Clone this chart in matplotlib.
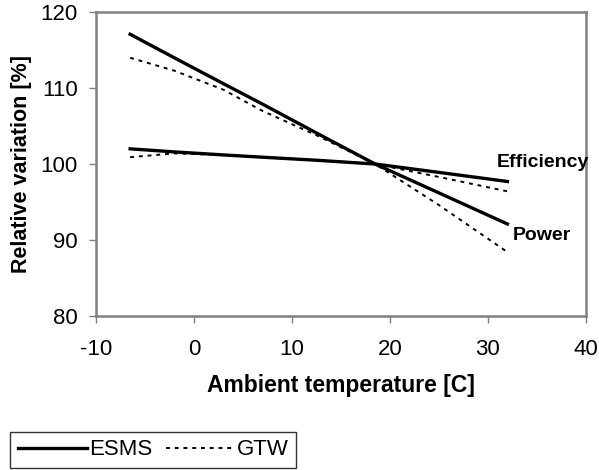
import matplotlib.pyplot as plt

plt.rcParams['font.family'] = ['Liberation Sans', 'DejaVu Sans']
plt.rcParams['axes.unicode_minus'] = False

temp = [-6.5, -2, 3, 7, 12.5, 18.5, 25, 32]
esms_power = [117.1, 114.0, 110.6, 107.9, 104.1, 100.0, 96.2, 92.1]
gtw_power = [114.0, 112.3, 109.8, 107.0, 103.8, 100.0, 94.6, 88.4]
esms_eff = [102.0, 101.6, 101.2, 100.9, 100.5, 100.0, 98.9, 97.7]
gtw_eff = [100.9, 101.4, 101.2, 100.9, 100.5, 100.0, 98.3, 96.4]

fig = plt.figure(figsize=(5.99, 4.70), dpi=100)
ax = fig.add_axes([0.160, 0.328, 0.818, 0.646])

l1, = ax.plot(temp, esms_power, color="black", lw=2.4, label="ESMS")
ax.plot(temp, esms_eff, color="black", lw=2.4)
l2, = ax.plot(temp, gtw_power, color="black", lw=1.4, ls=(0, (2, 2.5)), label="GTW")
ax.plot(temp, gtw_eff, color="black", lw=1.4, ls=(0, (2, 2.5)))

ax.text(30.9, 100.2, "Efficiency", fontsize=14, fontweight="bold", va="center")
ax.text(32.5, 90.6, "Power", fontsize=14, fontweight="bold", va="center")

ax.set_xlim(-10, 40)
ax.set_ylim(80, 120)
ax.set_xticks([-10, 0, 10, 20, 30, 40])
ax.set_yticks([80, 90, 100, 110, 120])
ax.tick_params(axis="both", direction="out", length=5, width=1, color="gray", labelsize=16, pad=8)
ax.tick_params(axis="x", pad=12)
for s in ax.spines.values():
    s.set_color("#808080")
    s.set_linewidth(1.8)

ax.set_xlabel("Ambient temperature [C]", fontsize=16.5, fontweight="bold", labelpad=10)
ax.set_ylabel("Relative variation [%]", fontsize=15.5, fontweight="bold", labelpad=6)

leg = fig.legend(handles=[l1, l2], loc="lower left", bbox_to_anchor=(0.017, 0.004), ncol=2,
                 fontsize=16, frameon=True, fancybox=False, edgecolor="black",
                 handlelength=3.1, handletextpad=0.1, columnspacing=0.6, borderaxespad=0,
                 borderpad=0.35)
leg.get_frame().set_linewidth(1.0)

plt.savefig("out.png", dpi=100)
